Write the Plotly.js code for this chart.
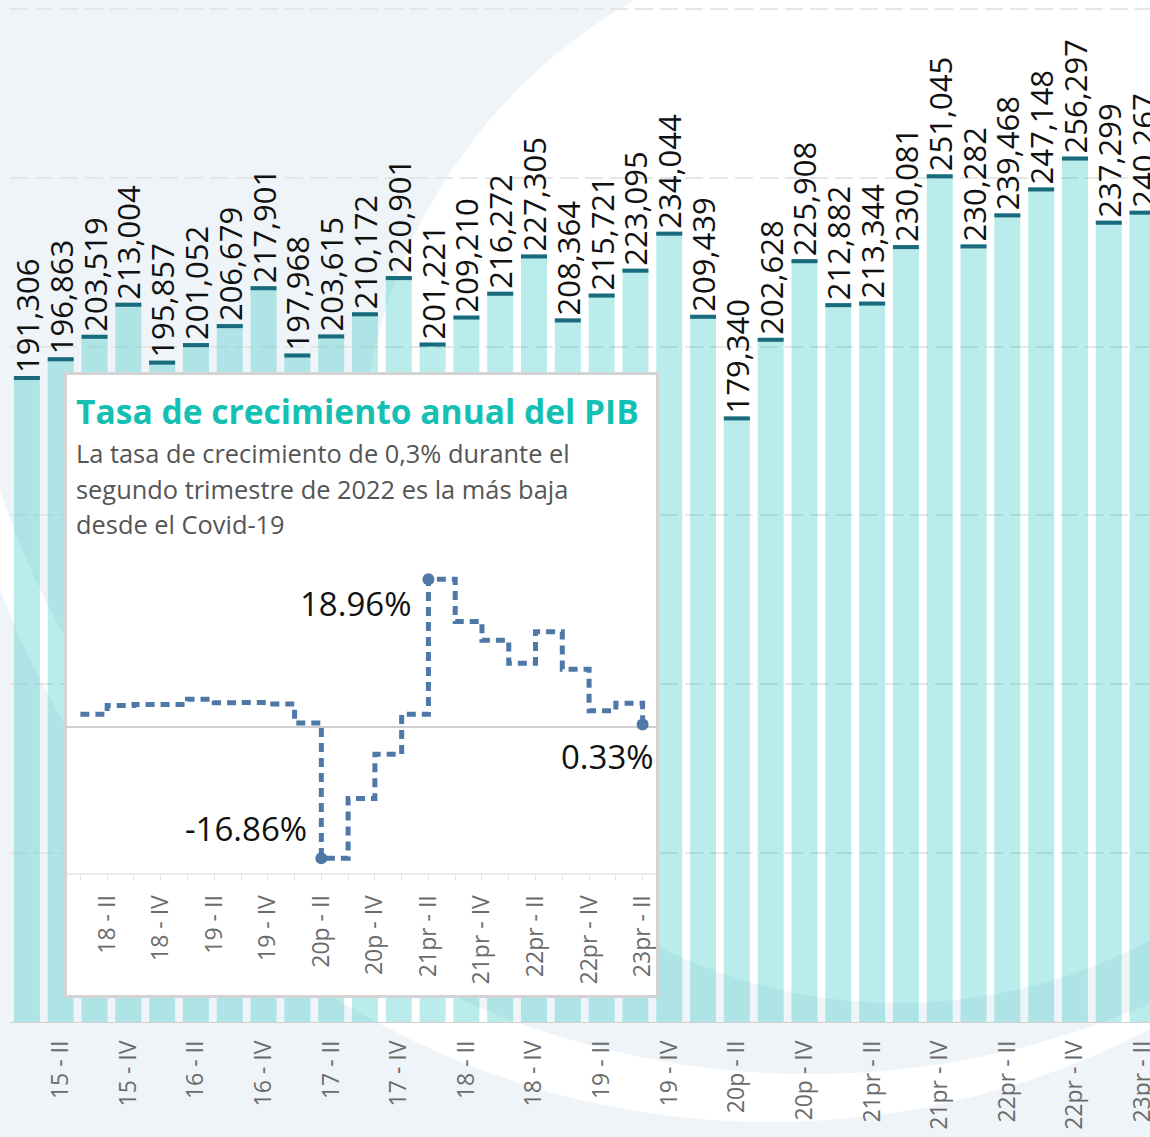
<!DOCTYPE html>
<html>
<head>
<meta charset="utf-8">
<script src="https://cdn.plot.ly/plotly-3.0.1.min.js"></script>
<style>
  html, body { margin: 0; padding: 0; width: 1150px; height: 1137px; overflow: hidden; }
  body {
    background:
      radial-gradient(circle 536px at 898px 467px, #ffffff 535.5px, rgba(255,255,255,0) 536.5px),
      radial-gradient(circle 854px at 810px 220px, #eff4f8 853.5px, rgba(239,244,248,0) 854.5px),
      radial-gradient(circle 823px at 770px 299px, #ffffff 822.5px, rgba(255,255,255,0) 823.5px),
      #eff4f8;
  }
  #chart { position: absolute; left: 0; top: 0; width: 1150px; height: 1137px; }
  #inset { position: absolute; left: 64px; top: 372px; width: 595px; height: 626px;
           box-sizing: border-box; border: 3px solid #d3d3d3; background: #ffffff; }
  #insetPlot { width: 589px; height: 620px; }
</style>
</head>
<body>
<div id="chart"></div>
<div id="inset"><div id="insetPlot"></div></div>
<script>
// ---- Data ----
const quarters = [
  "15 - I","15 - II","15 - III","15 - IV",
  "16 - I","16 - II","16 - III","16 - IV",
  "17 - I","17 - II","17 - III","17 - IV",
  "18 - I","18 - II","18 - III","18 - IV",
  "19 - I","19 - II","19 - III","19 - IV",
  "20p - I","20p - II","20p - III","20p - IV",
  "21pr - I","21pr - II","21pr - III","21pr - IV",
  "22pr - I","22pr - II","22pr - III","22pr - IV",
  "23pr - I","23pr - II"
];
const pibValues = [
  191306, 196863, 203519, 213004,
  195857, 201052, 206679, 217901,
  197968, 203615, 210172, 220901,
  201221, 209210, 216272, 227305,
  208364, 215721, 223095, 234044,
  209439, 179340, 202628, 225908,
  212882, 213344, 230081, 251045,
  230282, 239468, 247148, 256297,
  237299, 240267
];
const mainTickLabels = [
  "15 - II","15 - IV","16 - II","16 - IV","17 - II","17 - IV",
  "18 - II","18 - IV","19 - II","19 - IV","20p - II","20p - IV",
  "21pr - II","21pr - IV","22pr - II","22pr - IV","23pr - II"
];
const growthQuarters = [
  "18 - I","18 - II","18 - III","18 - IV",
  "19 - I","19 - II","19 - III","19 - IV",
  "20p - I","20p - II","20p - III","20p - IV",
  "21pr - I","21pr - II","21pr - III","21pr - IV",
  "22pr - I","22pr - II","22pr - III","22pr - IV",
  "23pr - I","23pr - II"
];
const growthRates = [
  1.64, 2.75, 2.90, 2.90,
  3.55, 3.11, 3.15, 2.96,
  0.52, -16.86, -9.17, -3.48,
  1.64, 18.96, 13.55, 11.13,
  8.17, 12.24, 7.42, 2.09,
  3.05, 0.33
];
const insetTickLabels = [
  "18 - II","18 - IV","19 - II","19 - IV","20p - II","20p - IV",
  "21pr - II","21pr - IV","22pr - II","22pr - IV","23pr - II"
];
const insetTitle = "Tasa de crecimiento anual del PIB";
const insetSubtitle = [
  "La tasa de crecimiento de 0,3% durante el",
  "segundo trimestre de 2022 es la más baja",
  "desde el Covid-19"
];

// ---- Styles ----
const FONT = "Open Sans, Noto Sans, sans-serif";
const capH = 1200;          // thickness of the dark cap on top of each bar (data units ≈ 4px)
const barFill = "rgba(28,192,188,0.30)";
const capColor = "#196a7c";
const lineColor = "#4e79a7";

// ---- Main bar chart ----
const barTrace = {
  type: "bar",
  x: quarters,
  y: pibValues,
  marker: { color: barFill, line: { width: 0 } },
  texttemplate: "%{y:,}",
  textposition: "outside",
  textangle: -90,
  textfont: { family: FONT, size: 31, color: "#111111" },
  cliponaxis: false,
  constraintext: "none",
  hoverinfo: "skip"
};
const capTrace = {
  type: "bar",
  x: quarters,
  y: quarters.map(() => capH),
  base: pibValues.map(v => v - capH),
  marker: { color: capColor, line: { width: 0 } },
  hoverinfo: "skip"
};

const mainLayout = {
  width: 1150, height: 1137,
  margin: { l: 10, r: 0, t: 0, b: 115 },
  paper_bgcolor: "rgba(0,0,0,0)",
  plot_bgcolor: "rgba(0,0,0,0)",
  barmode: "overlay",
  bargap: 0.231,
  showlegend: false,
  font: { family: FONT },
  xaxis: {
    type: "category",
    range: [-0.5, 33.22],
    tickmode: "array",
    tickvals: mainTickLabels,
    ticktext: mainTickLabels,
    tickangle: -90,
    tickfont: { family: FONT, size: 23, color: "#6b6b6b" },
    ticks: "",
    ticklabelstandoff: 13,
    showgrid: false, zeroline: false, showline: false
  },
  yaxis: {
    range: [0, 302650],
    dtick: 50000,
    showticklabels: false,
    ticks: "",
    gridcolor: "#e6e6e6",
    gridwidth: 2,
    griddash: "18px,7px",
    zeroline: true,
    zerolinecolor: "#d2d2d2",
    zerolinewidth: 1
  }
};

Plotly.newPlot("chart", [barTrace, capTrace], mainLayout, { displayModeBar: false, staticPlot: true });

// ---- Inset line chart ----
const iMax = growthRates.indexOf(Math.max(...growthRates));
const iMin = growthRates.indexOf(Math.min(...growthRates));
const iLast = growthRates.length - 1;
const markIdx = [iMax, iMin, iLast];

const stepTrace = {
  type: "scatter",
  mode: "lines",
  x: growthQuarters,
  y: growthRates,
  line: { shape: "hv", color: lineColor, width: 5, dash: "9px,6px" },
  hoverinfo: "skip"
};
const pointTrace = {
  type: "scatter",
  mode: "markers",
  x: markIdx.map(i => growthQuarters[i]),
  y: markIdx.map(i => growthRates[i]),
  marker: { color: lineColor, size: 12 },
  cliponaxis: false,
  hoverinfo: "skip"
};

const labelFont = { family: FONT, size: 33, color: "#111111" };
const fmt = v => v.toFixed(2) + "%";
const subMid = [1.342, 1.227, 1.115];

const insetAnnotations = [
  {
    xref: "paper", yref: "paper", x: 0.012, y: 1.476,
    xanchor: "left", yanchor: "middle", showarrow: false,
    text: insetTitle,
    font: { family: FONT, size: 33.6, color: "#14bfb3", weight: 700 }
  }
].concat(insetSubtitle.map((t, k) => ({
    xref: "paper", yref: "paper", x: 0.012, y: subMid[k],
    xanchor: "left", yanchor: "middle", showarrow: false,
    text: t,
    font: { family: FONT, size: 25.4, color: "#555555" }
  }))).concat([
  {
    x: growthQuarters[iMax], y: growthRates[iMax], xref: "x", yref: "y",
    xanchor: "right", yanchor: "top", xshift: -15, yshift: 0,
    showarrow: false, text: fmt(growthRates[iMax]), font: labelFont
  },
  {
    x: growthQuarters[iMin], y: growthRates[iMin], xref: "x", yref: "y",
    xanchor: "right", yanchor: "bottom", xshift: -12, yshift: 5,
    showarrow: false, text: fmt(growthRates[iMin]), font: labelFont
  },
  {
    x: growthQuarters[iLast], y: growthRates[iLast], xref: "x", yref: "y",
    xanchor: "right", yanchor: "top", xshift: 13, yshift: -8,
    showarrow: false, text: fmt(growthRates[iLast]), font: labelFont
  }
]);

const insetLayout = {
  width: 589, height: 620,
  margin: { l: 0, r: 0, t: 185, b: 122 },
  paper_bgcolor: "#ffffff",
  plot_bgcolor: "#ffffff",
  showlegend: false,
  font: { family: FONT },
  xaxis: {
    type: "category",
    range: [-0.5, 21.5],
    tickmode: "array",
    tickvals: growthQuarters,
    ticktext: growthQuarters.map(q => insetTickLabels.includes(q) ? q : ""),
    tickangle: -90,
    tickfont: { family: FONT, size: 23, color: "#6b6b6b" },
    ticks: "outside", ticklen: 5, tickcolor: "#e3e3e3", tickwidth: 1,
    ticklabelstandoff: 6,
    showline: true, linecolor: "#ececec", linewidth: 2,
    showgrid: false, zeroline: false
  },
  yaxis: {
    range: [-18.74, 21.44],
    showticklabels: false, ticks: "",
    showgrid: false,
    zeroline: true, zerolinecolor: "#cfcfcf", zerolinewidth: 2
  },
  annotations: insetAnnotations
};

Plotly.newPlot("insetPlot", [stepTrace, pointTrace], insetLayout, { displayModeBar: false, staticPlot: true });
</script>
</body>
</html>
